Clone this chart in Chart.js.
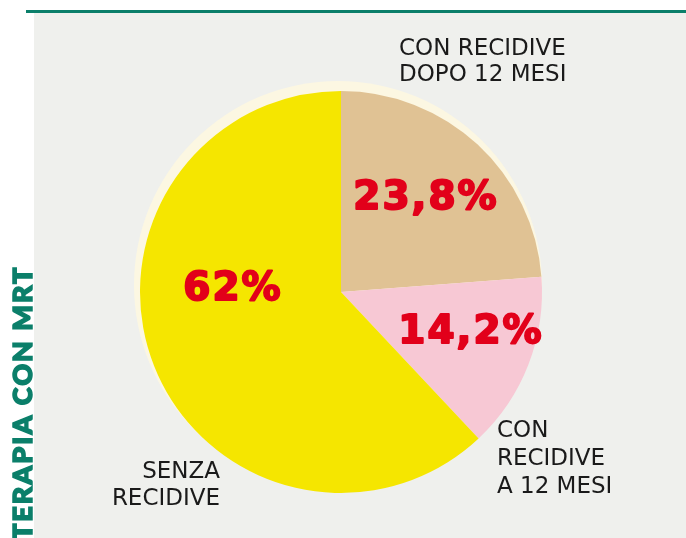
<!DOCTYPE html>
<html>
<head>
<meta charset="utf-8">
<script src="https://cdn.jsdelivr.net/npm/chart.js@4/dist/chart.umd.min.js"></script>
<style>
  html, body { margin: 0; padding: 0; background: #ffffff; }
  canvas { display: block; }
</style>
</head>
<body>
<canvas id="pieChart" width="686" height="538"></canvas>
<script>
// Dati del grafico
const categories = ["CON RECIDIVE DOPO 12 MESI", "CON RECIDIVE A 12 MESI", "SENZA RECIDIVE"];
const values = [23.8, 14.2, 62];
const valueLabels = ["23,8%", "14,2%", "62%"];
const sliceColors = ["#e0c294", "#f7c8d4", "#f5e600"];

// Sfondo, linea verde e titolo verticale
const decorPlugin = {
  id: "decor",
  beforeDraw(chart) {
    const ctx = chart.ctx;
    ctx.save();
    ctx.fillStyle = "#eff0ed";
    ctx.fillRect(34, 13, chart.width - 34, chart.height - 13);
    ctx.fillStyle = "#0b7f6a";
    ctx.fillRect(26, 10, chart.width - 26, 3);
    ctx.translate(33, 540);
    ctx.rotate(-Math.PI / 2);
    ctx.fillStyle = "#0b7f6a";
    ctx.strokeStyle = "#0b7f6a";
    ctx.lineWidth = 1.5;
    ctx.font = "900 27px Lato, 'DejaVu Sans', sans-serif";
    ctx.letterSpacing = "2px";
    ctx.textBaseline = "alphabetic";
    ctx.fillText("TERAPIA CON MRT", 0, -1);
    ctx.strokeText("TERAPIA CON MRT", 0, -1);
    ctx.restore();
  },
  beforeDatasetsDraw(chart) {
    // alone crema dietro la torta
    const arc = chart.getDatasetMeta(0).data[0];
    const ctx = chart.ctx;
    ctx.save();
    ctx.fillStyle = "#fcf7e2";
    ctx.beginPath();
    ctx.arc(arc.x - 3, arc.y - 7, arc.outerRadius + 3, 0, Math.PI * 2);
    ctx.fill();
    ctx.restore();
  },
  afterDatasetsDraw(chart) {
    const arc = chart.getDatasetMeta(0).data[0];
    const cx = arc.x, cy = arc.y;
    const ctx = chart.ctx;
    ctx.save();
    // percentuali
    ctx.fillStyle = "#e2001a";
    ctx.strokeStyle = "#e2001a";
    ctx.lineWidth = 2;
    ctx.lineJoin = "round";
    ctx.font = "bold 39px 'DejaVu Sans', sans-serif";
    ctx.letterSpacing = "2px";
    ctx.textAlign = "center";
    ctx.textBaseline = "middle";
    const pctPos = [[85, -93], [130, 41], [-108, -2]];
    valueLabels.forEach((t, i) => {
      ctx.fillText(t, cx + pctPos[i][0], cy + pctPos[i][1]);
      ctx.strokeText(t, cx + pctPos[i][0], cy + pctPos[i][1]);
    });
    // etichette esterne
    ctx.fillStyle = "#1a1a1a";
    ctx.font = "23px 'DejaVu Sans', sans-serif";
    ctx.letterSpacing = "0px";
    ctx.textBaseline = "alphabetic";
    ctx.textAlign = "left";
    ctx.fillText("CON RECIDIVE", 399, 55);
    ctx.fillText("DOPO 12 MESI", 399, 81);
    ctx.fillText("CON", 497, 437);
    ctx.fillText("RECIDIVE", 497, 465);
    ctx.fillText("A 12 MESI", 497, 493);
    ctx.textAlign = "right";
    ctx.fillText("SENZA", 220, 478);
    ctx.fillText("RECIDIVE", 220, 505);
    ctx.restore();
  }
};

const pieChart = new Chart(document.getElementById("pieChart"), {
  type: "pie",
  data: {
    labels: categories,
    datasets: [{
      data: values,
      backgroundColor: sliceColors,
      borderWidth: 0,
    }],
  },
  options: {
    responsive: false,
    animation: false,
    layout: { padding: { top: 91, bottom: 45, left: 140, right: 144 } },
    plugins: {
      legend: { display: false },
      tooltip: { enabled: false },
    },
  },
  plugins: [decorPlugin],
});
</script>
</body>
</html>
